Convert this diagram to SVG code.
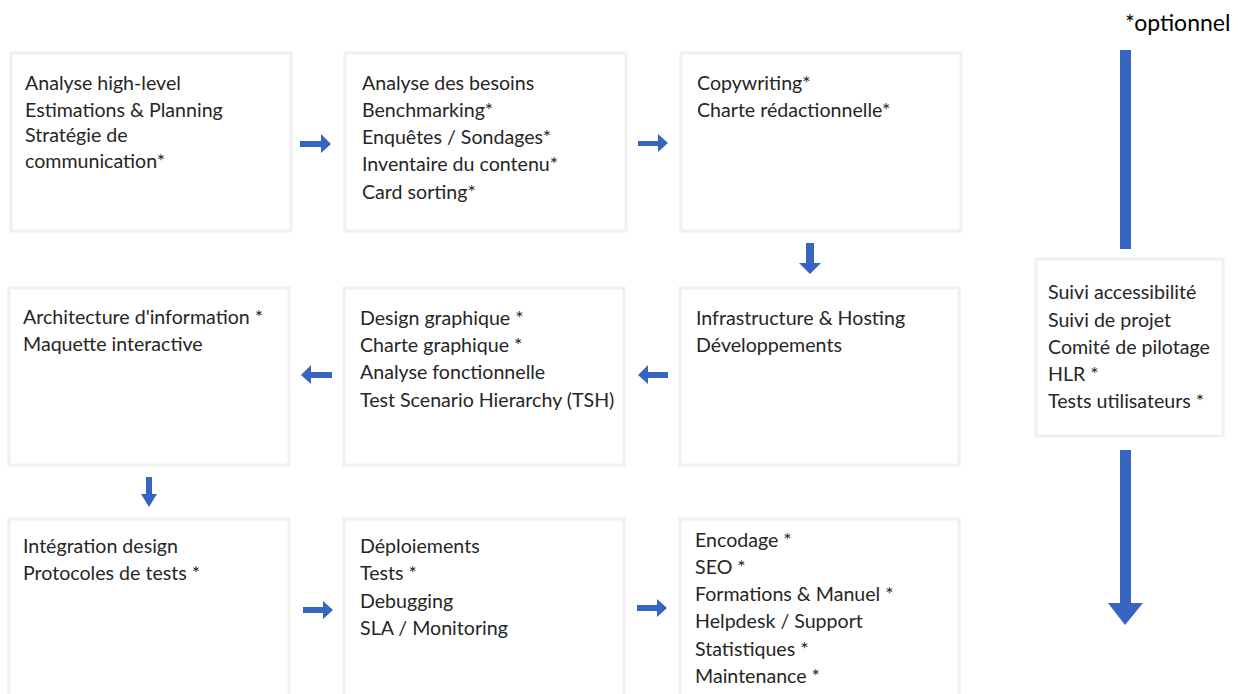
<svg xmlns="http://www.w3.org/2000/svg" width="1243" height="694" viewBox="0 0 1243 694">
<style>
.box{fill:#ffffff;stroke:#f0f0f0;stroke-width:3}
.t{font-family:Lato,"Liberation Sans",sans-serif;font-size:19.6px;fill:#262626}
.arr{fill:#3565c0}
</style>
<rect width="1243" height="694" fill="#ffffff"/>
<g id="connectors">
<polygon class="arr" points="300,141 321,141 321,134 331,144 321,153 321,147 300,147"/>
<polygon class="arr" points="638,141 658,141 658,134 668,143 658,152 658,146 638,146"/>
<polygon class="arr" points="806,243 814,243 814,263 821,263 810,274 799,263 806,263"/>
<polygon class="arr" points="668,372 648,372 648,365 638,375 648,384 648,378 668,378"/>
<polygon class="arr" points="332,372 311,372 311,365 301,375 311,384 311,378 332,378"/>
<polygon class="arr" points="146,477 152,477 152,494 157,494 149,507 141,494 146,494"/>
<polygon class="arr" points="303,607 323,607 323,601 333,610 323,619 323,613 303,613"/>
<polygon class="arr" points="637,605 657,605 657,599 667,608 657,617 657,611 637,611"/>
<rect class="arr" x="1120" y="50" width="11" height="199"/>
<polygon class="arr" points="1120,450 1131,450 1131,603 1143,603 1125,625 1108,603 1120,603"/>
</g>
<g id="n1"><rect class="box" x="11" y="53" width="280" height="178"/>
<text class="t" x="25" y="90">Analyse high-level</text>
<text class="t" x="25" y="117">Estimations &amp; Planning</text>
<text class="t" x="25" y="142">Stratégie de</text>
<text class="t" x="25" y="168">communication*</text></g>
<g id="n2"><rect class="box" x="345" y="53" width="281" height="178"/>
<text class="t" x="362" y="90">Analyse des besoins</text>
<text class="t" x="362" y="117">Benchmarking*</text>
<text class="t" x="362" y="144">Enquêtes / Sondages*</text>
<text class="t" x="362" y="171">Inventaire du contenu*</text>
<text class="t" x="362" y="199">Card sorting*</text></g>
<g id="n3"><rect class="box" x="681" y="53" width="280" height="178"/>
<text class="t" x="697" y="90">Copywriting*</text>
<text class="t" x="697" y="117">Charte rédactionnelle*</text></g>
<g id="n4"><rect class="box" x="9" y="288" width="280" height="177"/>
<text class="t" x="23" y="324">Architecture d'information *</text>
<text class="t" x="23" y="351">Maquette interactive</text></g>
<g id="n5"><rect class="box" x="344" y="288" width="280" height="177"/>
<text class="t" x="360" y="325">Design graphique *</text>
<text class="t" x="360" y="352">Charte graphique *</text>
<text class="t" x="360" y="379">Analyse fonctionnelle</text>
<text class="t" x="360" y="407">Test Scenario Hierarchy (TSH)</text></g>
<g id="n6"><rect class="box" x="680" y="288" width="279" height="177"/>
<text class="t" x="696" y="325">Infrastructure &amp; Hosting</text>
<text class="t" x="696" y="352">Développements</text></g>
<g id="n7"><rect class="box" x="9" y="519" width="280" height="180"/>
<text class="t" x="23" y="553">Intégration design</text>
<text class="t" x="23" y="580">Protocoles de tests *</text></g>
<g id="n8"><rect class="box" x="344" y="519" width="280" height="180"/>
<text class="t" x="360" y="553">Déploiements</text>
<text class="t" x="360" y="580">Tests *</text>
<text class="t" x="360" y="608">Debugging</text>
<text class="t" x="360" y="635">SLA / Monitoring</text></g>
<g id="n9"><rect class="box" x="680" y="519" width="279" height="180"/>
<text class="t" x="695" y="547">Encodage *</text>
<text class="t" x="695" y="574">SEO *</text>
<text class="t" x="695" y="601">Formations &amp; Manuel *</text>
<text class="t" x="695" y="628">Helpdesk / Support</text>
<text class="t" x="695" y="656">Statistiques *</text>
<text class="t" x="695" y="683">Maintenance *</text></g>
<g id="n10"><rect class="box" x="1036" y="259" width="187" height="177"/>
<text class="t" x="1048" y="299">Suivi accessibilité</text>
<text class="t" x="1048" y="327">Suivi de projet</text>
<text class="t" x="1048" y="354">Comité de pilotage</text>
<text class="t" x="1048" y="381">HLR *</text>
<text class="t" x="1048" y="408">Tests utilisateurs *</text></g>
<text id="legend" x="1125" y="31" style="font-family:Lato,'Liberation Sans',sans-serif;font-size:23px;fill:#000000">*optionnel</text>
</svg>
